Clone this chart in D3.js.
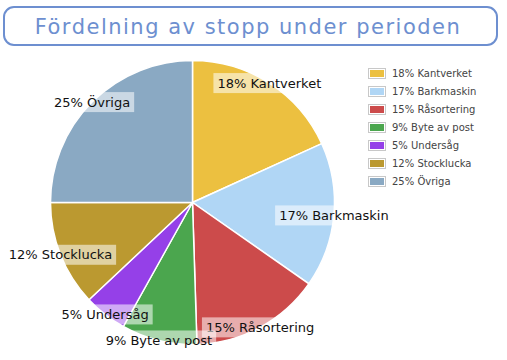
<!DOCTYPE html>
<html><head><meta charset="utf-8">
<script src="https://cdn.jsdelivr.net/npm/d3@7"></script>
<style>html,body{margin:0;padding:0;background:#fff;}svg{display:block;}</style>
</head><body>
<svg id="c" width="507" height="360"></svg>
<script>
const title = "Fördelning av stopp under perioden";
const categories = ["Kantverket","Barkmaskin","Råsortering","Byte av post","Undersåg","Stocklucka","Övriga"];
const values = [18.2, 16.5, 14.8, 8.6, 4.9, 12.0, 25.0];
const percentLabels = ["18%","17%","15%","9%","5%","12%","25%"];
const colors = ["#ecc040","#b0d6f5","#cc4b4b","#4ba64e","#9540e8","#bb9930","#8aa9c3"];

const svg = d3.select("#c");
const font = "'DejaVu Sans', Verdana, sans-serif";

// Title box
svg.append("rect").attr("x",4).attr("y",7).attr("width",493).attr("height",38)
  .attr("rx",10).attr("ry",10).attr("fill","#fff").attr("stroke","#6d8fd0").attr("stroke-width",2);
svg.append("text").attr("x",248).attr("y",34).attr("text-anchor","middle")
  .attr("font-family",font).attr("font-size",21).attr("letter-spacing",1.5).attr("fill","#6d8fd0").text(title);

// Pie
const cx = 192.5, cy = 202.5, r = 142;
const data = categories.map((c,i)=>({name:c, value:values[i], pct:percentLabels[i], color:colors[i]}));
const pie = d3.pie().sort(null).value(d=>d.value);
const arcs = pie(data);
const arc = d3.arc().innerRadius(0).outerRadius(r);
const g = svg.append("g").attr("transform",`translate(${cx},${cy})`);
g.selectAll("path").data(arcs).join("path").attr("d",arc)
  .attr("fill",d=>d.data.color).attr("stroke","#fff").attr("stroke-width",1.5);

// Labels at outer radius on mid-angle
const lg = g.selectAll("g.lbl").data(arcs).join("g").attr("class","lbl")
  .attr("transform",d=>{
    const a=(d.startAngle+d.endAngle)/2;
    return `translate(${Math.sin(a)*r},${-Math.cos(a)*r})`;
  });
lg.each(function(d){
  const sel = d3.select(this);
  const t = sel.append("text").attr("text-anchor","middle").attr("dy","0.35em")
    .attr("font-family",font).attr("font-size",13).attr("fill","#111")
    .text(d.data.pct+" "+d.data.name);
  const bb = t.node().getBBox();
  sel.insert("rect","text").attr("x",bb.x-4).attr("y",-10).attr("width",bb.width+8).attr("height",20)
    .attr("fill","#fff").attr("fill-opacity",0.55);
});

// Legend
const leg = svg.append("g").attr("transform","translate(368,68)");
const items = leg.selectAll("g").data(data).join("g").attr("transform",(d,i)=>`translate(0,${i*18})`);
items.append("rect").attr("x",0.5).attr("y",0.5).attr("width",17).attr("height",10)
  .attr("fill","#fff").attr("stroke","#c8c8c8").attr("stroke-width",1);
items.append("rect").attr("x",2).attr("y",2).attr("width",14).attr("height",7).attr("fill",d=>d.color);
items.append("text").attr("x",24).attr("y",5.5).attr("dy","0.35em")
  .attr("font-family",font).attr("font-size",10).attr("fill","#444")
  .text(d=>d.pct+" "+d.name);
</script>
</body></html>
